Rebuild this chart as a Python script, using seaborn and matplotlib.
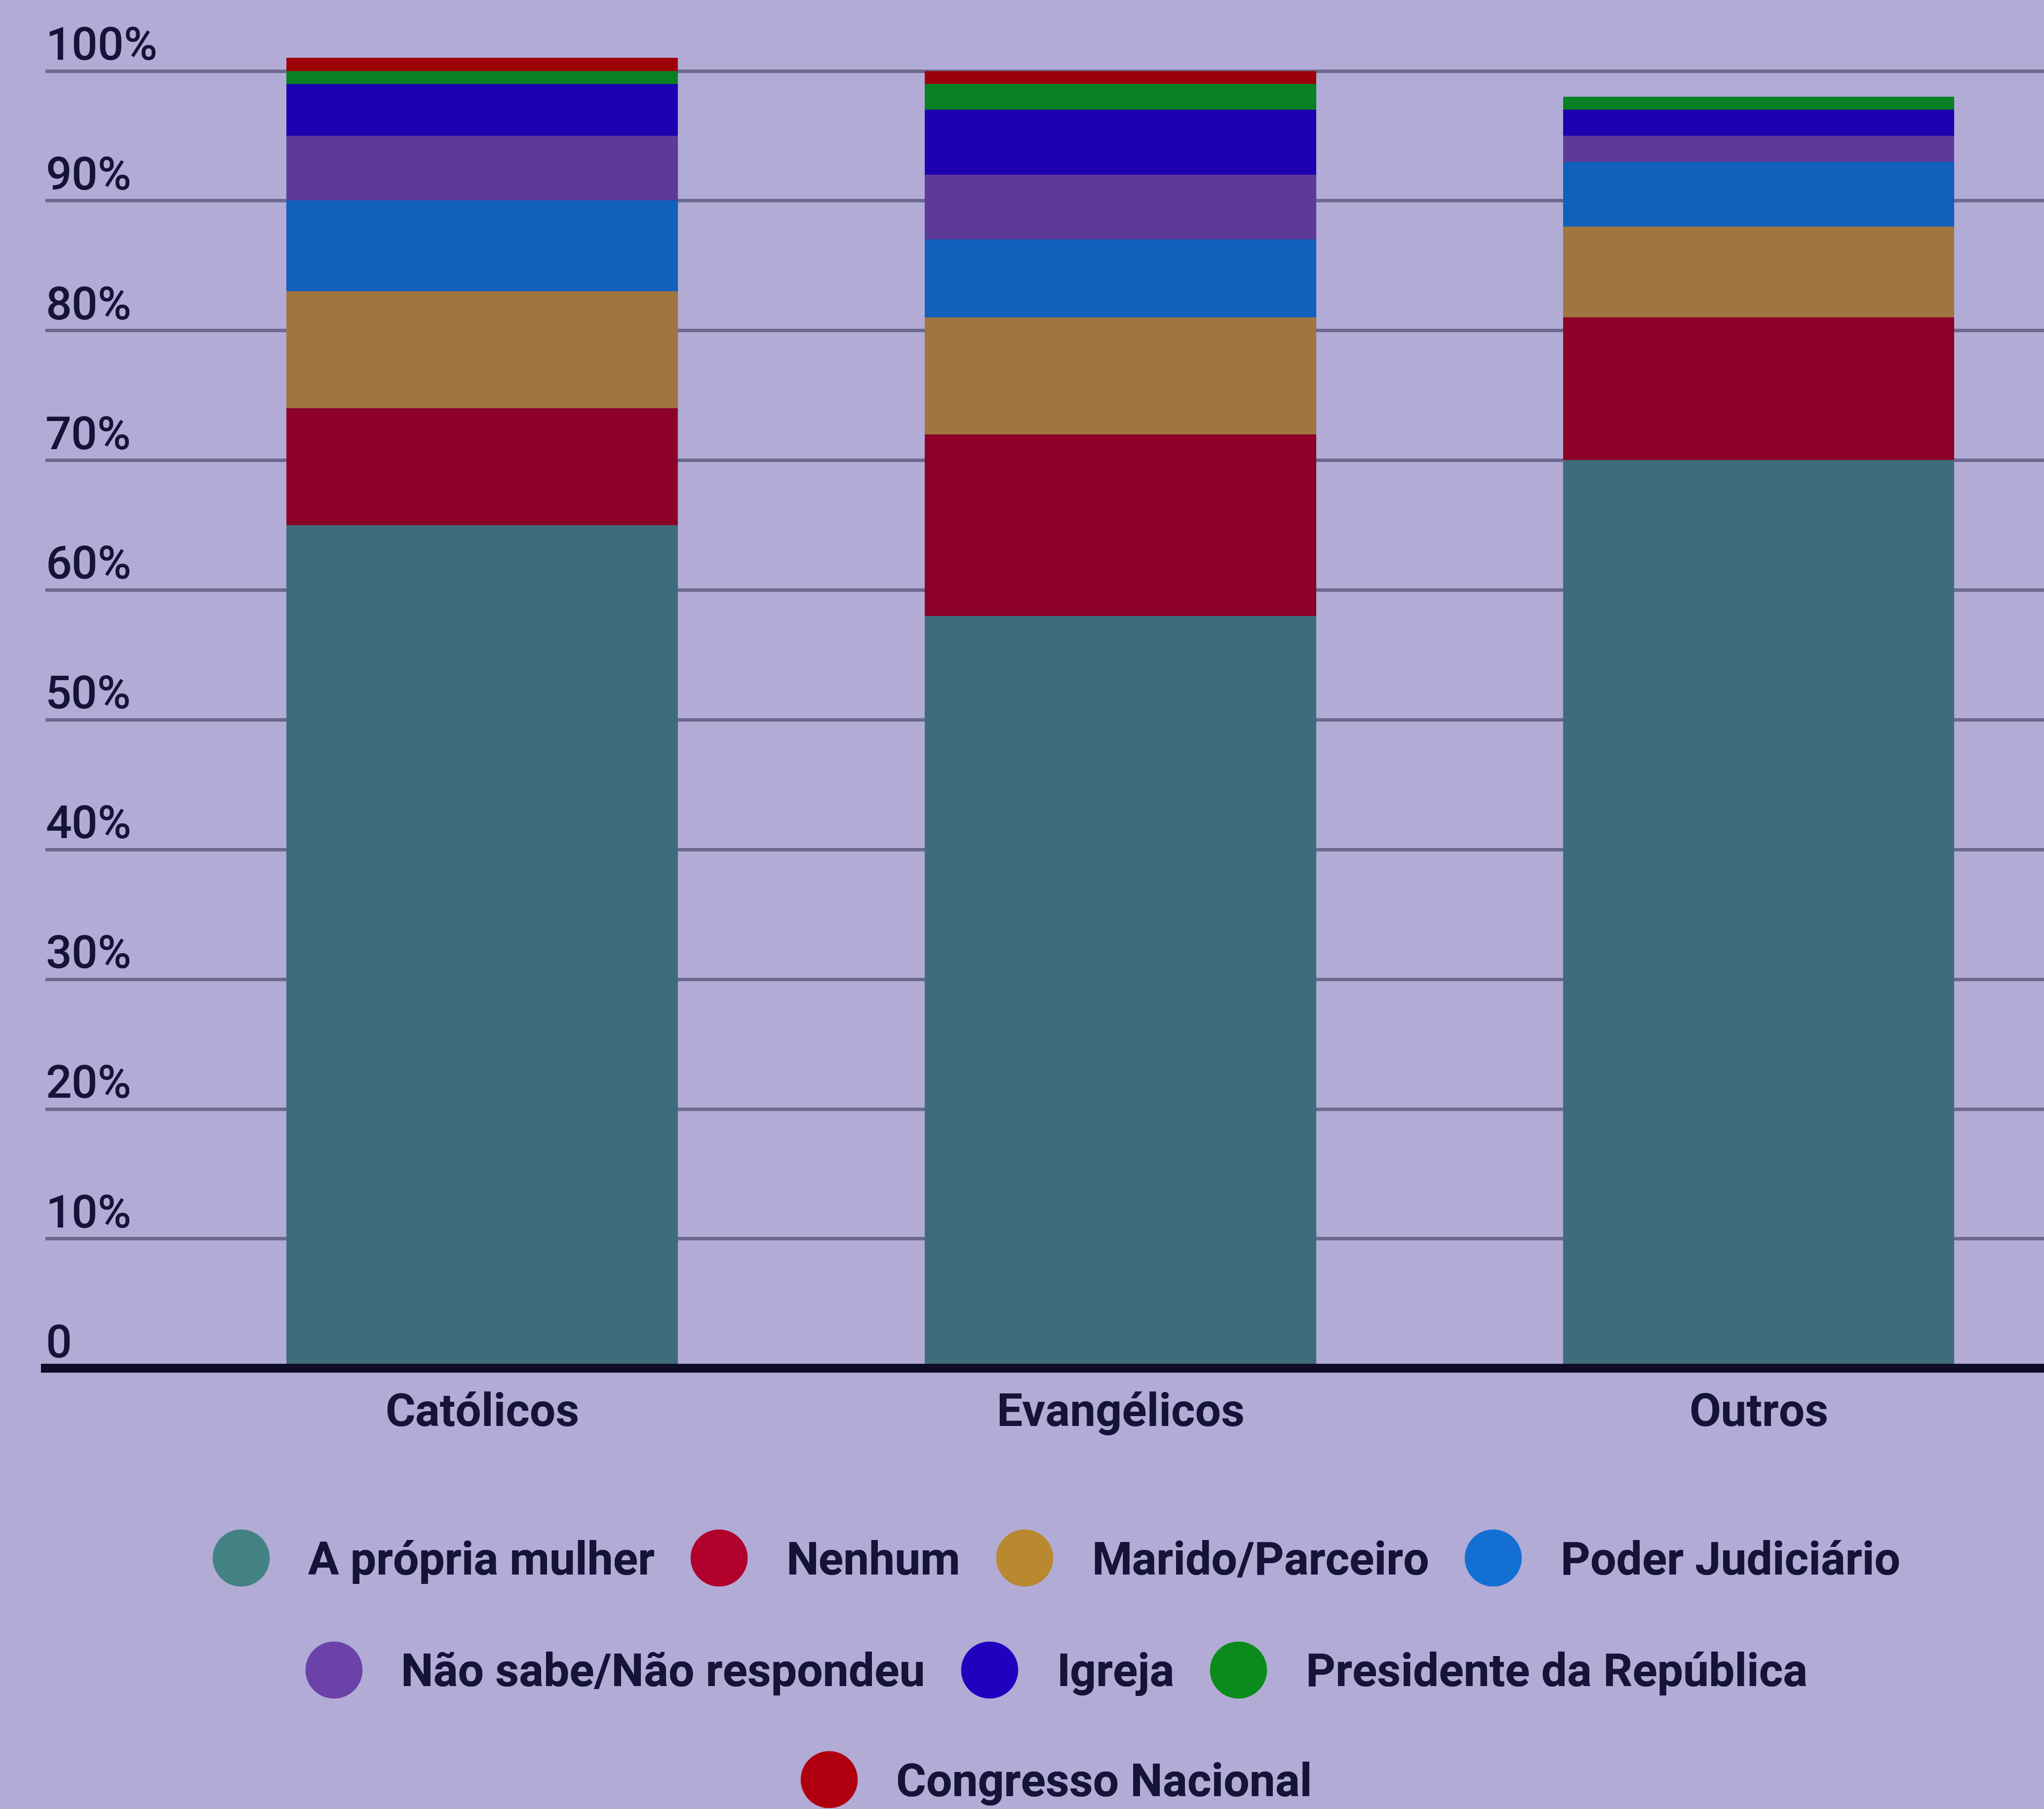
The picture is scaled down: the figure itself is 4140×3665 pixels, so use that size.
import matplotlib
matplotlib.use("Agg")
import matplotlib.pyplot as plt
from matplotlib.lines import Line2D
import numpy as np
import pandas as pd
import seaborn as sns

# --- data -------------------------------------------------------------
categories = ["Católicos", "Evangélicos", "Outros"]
responses = [
    "A própria mulher", "Nenhum", "Marido/Parceiro", "Poder Judiciário",
    "Não sabe/Não respondeu", "Igreja", "Presidente da República",
    "Congresso Nacional",
]
propria_mulher = [65, 58, 70]
nenhum = [9, 14, 11]
marido_parceiro = [9, 9, 7]
poder_judiciario = [7, 6, 5]
nao_sabe = [5, 5, 2]
igreja = [4, 5, 2]
presidente = [1, 2, 1]
congresso = [1, 1, 0]

ytick_values = [0, 10, 20, 30, 40, 50, 60, 70, 80, 90, 100]
ytick_labels = ["0", "10%", "20%", "30%", "40%", "50%", "60%", "70%",
                "80%", "90%", "100%"]

# --- styling ----------------------------------------------------------
bar_colors = ["#3f6c7c", "#8c0029", "#a07540", "#1060bc",
              "#5e3a98", "#1d00b0", "#0a8024", "#9c0008"]
legend_colors = ["#438283", "#b0022c", "#b8892f", "#1370d2",
                 "#6a42a8", "#2200c0", "#0a8c1c", "#b00010"]
bg = "#b1abd6"
grid_col = "#6c688e"
ink = "#16133a"

sns.set_theme(style="white")
plt.rcParams["font.family"] = ["Roboto", "DejaVu Sans"]

series = [propria_mulher, nenhum, marido_parceiro, poder_judiciario,
          nao_sabe, igreja, presidente, congresso]
df = pd.DataFrame({r: s for r, s in zip(responses, series)}, index=categories)
cum = df.cumsum(axis=1)

fig = plt.figure(figsize=(41.4, 36.66), dpi=100, facecolor=bg)
ax = fig.add_axes([0.0223, 0.2435, 0.9777, 0.7565])
ax.set_facecolor(bg)

# stacked bars: draw cumulative totals from the top layer down
for resp, col in reversed(list(zip(responses, bar_colors))):
    sns.barplot(x=categories, y=cum[resp].values, order=categories,
                color=col, saturation=1, width=0.613, errorbar=None,
                ax=ax, zorder=3, linewidth=0)

ax.set_xlim(-0.684, 2.447)
ax.set_ylim(0, 105.5)
ax.set_xlabel("")
ax.set_ylabel("")

# horizontal gridlines
ax.set_yticks(ytick_values)
ax.set_yticklabels([])
ax.tick_params(axis="y", length=0)
ax.yaxis.grid(True, color=grid_col, linewidth=5, zorder=0)
ax.xaxis.grid(False)
ax.set_axisbelow(True)

# tick labels sit above their gridlines at the left edge
for v, lab in zip(ytick_values, ytick_labels):
    ax.annotate(lab, xy=(0, v), xycoords=("axes fraction", "data"),
                xytext=(0, 17), textcoords="offset points",
                ha="left", va="baseline", fontsize=67, color=ink,
                fontweight="medium")

for s in ["top", "right", "left"]:
    ax.spines[s].set_visible(False)
ax.spines["bottom"].set_color("#0f0c28")
ax.spines["bottom"].set_linewidth(13)
ax.spines["bottom"].set_zorder(5)

ax.tick_params(axis="x", length=0, pad=33, labelsize=67, labelcolor=ink)
for t in ax.get_xticklabels():
    t.set_fontweight("bold")

# legend in three centred rows
handles = [Line2D([], [], marker="o", linestyle="none", markersize=83,
                  markerfacecolor=c, markeredgewidth=0) for c in legend_colors]
rows = [(0, 4, 0.1369), (4, 7, 0.0749), (7, 8, 0.0144)]
for a, b, y in rows:
    leg = fig.legend(handles[a:b], responses[a:b], loc="center",
                     bbox_to_anchor=(0.5166, y), ncol=b - a, frameon=False,
                     fontsize=67, handlelength=1.27, handletextpad=0.83,
                     columnspacing=0.76, borderpad=0, borderaxespad=0)
    for t in leg.get_texts():
        t.set_color(ink)
        t.set_fontweight("bold")
    fig.add_artist(leg)

fig.savefig("out.png", dpi=100, facecolor=bg)
